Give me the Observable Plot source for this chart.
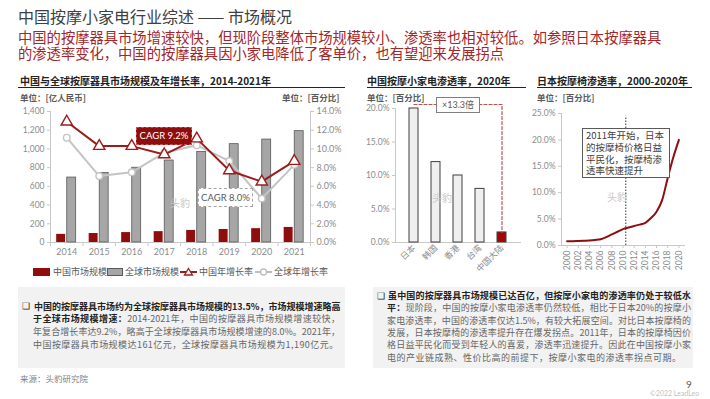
<!DOCTYPE html>
<html><head><meta charset="utf-8">
<script src="https://cdn.jsdelivr.net/npm/d3@7"></script>
<script src="https://cdn.jsdelivr.net/npm/@observablehq/plot@0.6"></script>
<style>
body{margin:0;width:710px;height:399px;position:relative;overflow:hidden;background:#fff;font-family:Lato,"Noto Sans CJK SC",sans-serif;}
.a{position:absolute;white-space:nowrap;}
.hd{font-size:10px;font-weight:bold;color:#222;line-height:14px;font-family:"Noto Sans CJK SC",sans-serif;}
.ul{position:absolute;height:0;border-top:1.5px solid #222;}
.unit{font-size:8.5px;font-weight:bold;color:#595959;line-height:11px;font-family:"Noto Sans CJK SC",sans-serif;}
.wm{font-size:10px;color:#c8c8c8;font-family:"Noto Sans CJK SC",sans-serif;}
.box{position:absolute;background:#f2f2f2;}
.tl{position:absolute;font-size:9px;line-height:12.8px;color:#666;white-space:nowrap;font-family:"Noto Sans CJK SC",sans-serif;text-align:justify;text-align-last:justify;}
.tl b{color:#222;}
.last{text-align-last:left;}
.lg{font-size:9px;color:#595959;line-height:12px;font-family:"Noto Sans CJK SC",sans-serif;}
.plotwrap{position:absolute;}
.plotwrap svg{overflow:visible;}
</style></head><body>

<div class="a" style="left:18px;top:7px;font-size:16px;line-height:18px;color:#404040;font-family:'Noto Sans CJK SC';">中国按摩小家电行业综述 —— 市场概况</div>
<div class="a" style="left:18px;top:28.5px;font-size:14.3px;line-height:15px;color:#a3262a;font-family:'Noto Sans CJK SC';">中国的按摩器具市场增速较快，但现阶段整体市场规模较小、渗透率也相对较低。如参照日本按摩器具</div>
<div class="a" style="left:18px;top:45px;font-size:14.3px;line-height:15px;color:#a3262a;font-family:'Noto Sans CJK SC';">的渗透率变化，中国的按摩器具因小家电降低了客单价，也有望迎来发展拐点</div>

<div class="a hd" style="left:20px;top:74px;">中国与全球按摩器具市场规模及年增长率，2014-2021年</div>
<div class="ul" style="left:18px;top:87px;width:327px;"></div>
<div class="a hd" style="left:367px;top:74px;">中国按摩小家电渗透率，2020年</div>
<div class="ul" style="left:367px;top:87px;width:159px;"></div>
<div class="a hd" style="left:537px;top:74px;">日本按摩椅渗透率，2000-2020年</div>
<div class="ul" style="left:537px;top:87px;width:155px;"></div>

<div class="a unit" style="left:20px;top:92px;">单位：[亿人民币]</div>
<div class="a unit" style="left:282px;top:92px;">单位：[百分比]</div>
<div class="a unit" style="left:367px;top:92px;">单位：[百分比]</div>
<div class="a unit" style="left:537px;top:92px;">单位：[百分比]</div>

<div id="c1a" class="plotwrap" style="left:18px;top:92px;"></div>
<div id="c1b" class="plotwrap" style="left:18px;top:92px;"></div>
<div id="c2" class="plotwrap" style="left:360px;top:92px;"></div>
<div id="c3" class="plotwrap" style="left:522px;top:92px;"></div>

<div class="a wm" style="left:170px;top:195px;">头豹</div>
<div class="a wm" style="left:432px;top:190px;">头豹</div>
<div class="a wm" style="left:607px;top:189px;">头豹</div>

<div class="a" style="left:136px;top:127px;width:54px;height:16px;background:#8e0d0d;border:1px dashed #d05050;color:#fff;font-size:9.5px;line-height:16px;text-align:center;">CAGR 9.2%</div>
<div class="a" style="left:198px;top:188px;width:53px;height:17px;background:#fff;border:1px dashed #a6a6a6;color:#595959;font-size:9.5px;line-height:17px;text-align:center;">CAGR 8.0%</div>
<div class="a" style="left:436px;top:97px;width:42px;height:14px;background:#fff;border:1px solid #7f7f7f;color:#595959;font-size:9px;line-height:14px;text-align:center;">×13.3倍</div>
<div class="a" style="left:582px;top:128px;width:86px;height:48px;background:#fff;border:1px solid #595959;"></div>
<div class="a" style="left:586px;top:129px;font-size:9.5px;line-height:11.8px;color:#404040;font-family:'Noto Sans CJK SC';padding-top:1px;">2011年开始，日本<br>的按摩椅价格日益<br>平民化，按摩椅渗<br>透率快速提升</div>

<svg class="a" style="left:0;top:264px;" width="345" height="16">
  <rect x="33" y="4" width="17" height="8" fill="#8e0d0d"/>
  <rect x="107.5" y="4.5" width="15" height="7" fill="#a6a6a6" stroke="#595959" stroke-width="1"/>
  <line x1="180" y1="8" x2="197" y2="8" stroke="#9c1c1c" stroke-width="2"/>
  <path d="M188.5,4.5 L192.5,11 L184.5,11 Z" fill="#fff" stroke="#9c1c1c" stroke-width="1.3"/>
  <line x1="255" y1="8" x2="272" y2="8" stroke="#bfbfbf" stroke-width="2"/>
  <circle cx="263.5" cy="8" r="3" fill="#fff" stroke="#bfbfbf" stroke-width="1.3"/>
</svg>
<div class="a lg" style="left:53px;top:266px;">中国市场规模</div>
<div class="a lg" style="left:125px;top:266px;">全球市场规模</div>
<div class="a lg" style="left:199px;top:266px;">中国年增长率</div>
<div class="a lg" style="left:274px;top:266px;">全球年增长率</div>

<div class="box" style="left:18px;top:287px;width:327px;height:81px;"></div>
<div class="a" style="left:22px;top:300px;font-size:9px;line-height:12.8px;color:#222;">❑</div>
<div class="tl" style="left:34px;top:300.6px;width:306px;"><b>中国的按摩器具市场约为全球按摩器具市场规模的13.5%，市场规模增速略高</b></div>
<div class="tl" style="left:33px;top:313.4px;width:307px;"><b>于全球市场规模增速：</b>2014-2021年，中国的按摩器具市场规模增速较快，</div>
<div class="tl" style="left:33px;top:326.2px;width:307px;">年复合增长率达9.2%，略高于全球按摩器具市场规模增速的8.0%。2021年，</div>
<div class="tl last" style="left:33px;top:339px;width:307px;letter-spacing:0.45px;">中国按摩器具市场规模达161亿元，全球按摩器具市场规模为1,190亿元。</div>

<div class="box" style="left:373px;top:287px;width:320px;height:81px;"></div>
<div class="a" style="left:377px;top:289.8px;font-size:9px;line-height:12.4px;color:#222;">❑</div>
<div class="tl" style="left:388px;top:289.8px;width:303px;line-height:12.4px;"><b>虽中国的按摩器具市场规模已达百亿，但按摩小家电的渗透率仍处于较低水</b></div>
<div class="tl" style="left:387px;top:302.2px;width:304px;line-height:12.4px;"><b>平：</b>现阶段，中国的按摩小家电渗透率仍然较低，相比于日本20%的按摩小</div>
<div class="tl" style="left:387px;top:314.6px;width:304px;line-height:12.4px;">家电渗透率，中国的渗透率仅达1.5%，有较大拓展空间。对比日本按摩椅的</div>
<div class="tl" style="left:387px;top:327px;width:304px;line-height:12.4px;">发展，日本按摩椅的渗透率提升存在爆发拐点。2011年，日本的按摩椅因价</div>
<div class="tl" style="left:387px;top:339.4px;width:304px;line-height:12.4px;">格日益平民化而受到年轻人的喜爱，渗透率迅速提升。因此在中国按摩小家</div>
<div class="tl last" style="left:387px;top:351.8px;width:304px;line-height:12.4px;letter-spacing:0.5px;">电的产业链成熟、性价比高的前提下，按摩小家电的渗透率拐点可期。</div>

<div class="a" style="left:20px;top:372px;font-size:8.5px;line-height:12px;color:#7f7f7f;font-family:'Noto Sans CJK SC';">来源：头豹研究院</div>
<div class="a" style="left:686px;top:377px;font-size:10px;line-height:14px;color:#595959;">9</div>
<div class="a" style="left:650px;top:388px;font-size:7px;line-height:10px;color:#bfbfbf;">©2022 LeadLeo</div>

<script>
// ---- Data ----
const years = [2014, 2015, 2016, 2017, 2018, 2019, 2020, 2021];
const chinaMarket = [87, 96, 106, 116, 129, 139, 148, 161];          // 亿人民币
const globalMarket = [694, 743, 799, 876, 967, 1051, 1100, 1190];    // 亿人民币
const chinaGrowth = [12.9, 10.3, 10.3, 9.4, 11.1, 7.7, 6.5, 8.7];    // %
const globalGrowth = [11.2, 7.1, 7.5, 9.6, 10.4, 8.7, 4.7, 8.3];     // %
const marketTicks = [0, 200, 400, 600, 800, 1000, 1200, 1400];
const growthTicks = [0, 2, 4, 6, 8, 10, 12, 14];

const regions = ["日本", "韩国", "香港", "台湾", "中国大陆"];
const penetration2020 = [20, 12, 10, 8, 1.5];
const penetrationTicks = [0, 5, 10, 15, 20];
const multipleLevel = 20.6; // level of the ×13.3倍 dashed guide

const jpYears = [2000,2001,2002,2003,2004,2005,2006,2007,2008,2009,2010,2011,2012,2013,2014,2015,2016,2017,2018,2019,2020];
const jpChair = [0.8,0.8,0.85,0.9,0.95,1.05,1.2,1.6,2.1,2.6,3.1,3.4,3.7,3.95,4.3,5.2,6.4,8.6,12.8,16.7,20.0];
const jpYearTicks = [2000,2002,2004,2006,2008,2010,2012,2014,2016,2018,2020];
const jpTicks = [0, 5, 10, 15, 20, 25];
const markerYear = 2010.5;

const RED = "#8e0d0d", LRED = "#9c1c1c", GRAY = "#a6a6a6";
const FONT = "Lato, 'Noto Sans CJK SC', sans-serif";
const pct1 = d => d.toFixed(1) + "%";
const axisStyle = {background: "transparent", color: "#c8c8c8", fontSize: "8.5px", fontFamily: FONT, overflow: "visible"};

// ---- Chart 1 ----
const rows = years.map((y, i) => ({year: y, china: chinaMarket[i], global: globalMarket[i], cr: chinaGrowth[i], gr: globalGrowth[i]}));
const bounds = d3.range(years[0] - 0.5, years[years.length - 1] + 1, 1);
const common1 = {width: 327, height: 172, marginTop: 19, marginBottom: 22, marginLeft: 32, marginRight: 35};

const c1a = Plot.plot({
  ...common1,
  style: axisStyle,
  x: {domain: [years[0] - 0.5, years[years.length - 1] + 0.5], ticks: bounds, tickFormat: () => "", tickSize: 4, line: true, label: null},
  y: {domain: [0, 1400], ticks: marketTicks, tickFormat: d3.format(","), tickSize: 3, tickPadding: 3, line: true, label: null},
  marks: [
    Plot.rect(rows, {x1: d => d.year - 0.31, x2: d => d.year - 0.035, y1: () => 0, y2: "china", fill: RED}),
    Plot.rect(rows, {x1: d => d.year + 0.015, x2: d => d.year + 0.29, y1: () => 0, y2: "global", fill: GRAY, stroke: "#595959", strokeWidth: 0.8})
  ]
});
document.getElementById("c1a").appendChild(c1a);

const c1b = Plot.plot({
  ...common1,
  style: {...axisStyle, fontSize: "9px"},
  x: {domain: [years[0] - 0.5, years[years.length - 1] + 0.5], ticks: years, tickFormat: d => String(d), tickSize: 0, tickPadding: 6, label: null},
  y: {domain: [0, 14], axis: "right", ticks: growthTicks, tickFormat: pct1, tickSize: 3, tickPadding: 3, line: true, label: null},
  marks: [
    Plot.line(rows, {x: "year", y: "gr", stroke: "#c4c4c4", strokeWidth: 2}),
    Plot.dot(rows, {x: "year", y: "gr", r: 3.3, fill: "white", stroke: "#c4c4c4", strokeWidth: 1.4}),
    Plot.line(rows, {x: "year", y: "cr", stroke: LRED, strokeWidth: 2}),
    Plot.dot(rows, {x: "year", y: "cr", symbol: "triangle", r: 4.2, fill: "white", stroke: LRED, strokeWidth: 1.4})
  ]
});
document.getElementById("c1b").appendChild(c1b);

// ---- Chart 2 ----
const regionRows = regions.map((r, i) => ({region: r, v: penetration2020[i]}));
const guide = [
  {region: regions[0], v: multipleLevel},
  {region: regions[regions.length - 1], v: multipleLevel},
  {region: regions[regions.length - 1], v: penetration2020[penetration2020.length - 1]}
];
const c2 = Plot.plot({
  width: 170, height: 185, marginTop: 16, marginBottom: 35, marginLeft: 35, marginRight: 10,
  style: axisStyle,
  x: {domain: regions, padding: 0.6, tickRotate: -45, tickSize: 0, tickPadding: 4, label: null, line: true},
  y: {domain: [0, 20], ticks: penetrationTicks, tickFormat: pct1, tickSize: 3, tickPadding: 3, line: true, label: null},
  marks: [
    Plot.barY(regionRows, {x: "region", y: "v", fill: d => d.region === regions[regions.length - 1] ? "#a00808" : "#efefef", stroke: "#3f3f3f", strokeWidth: 1}),
    Plot.line(guide, {x: "region", y: "v", stroke: "#c0504d", strokeWidth: 1.2, strokeDasharray: "3,2"})
  ]
});
document.getElementById("c2").appendChild(c2);

// ---- Chart 3 ----
const jpRows = jpYears.map((y, i) => ({year: y, v: jpChair[i]}));
const c3 = Plot.plot({
  width: 183, height: 183, marginTop: 21, marginBottom: 30, marginLeft: 39, marginRight: 21,
  style: axisStyle,
  x: {domain: [jpYears[0] - 1, jpYears[jpYears.length - 1] + 1], ticks: jpYearTicks, tickFormat: d => String(d), tickRotate: -90, tickSize: 3, tickPadding: 2, line: true, label: null},
  y: {domain: [0, 25], ticks: jpTicks, tickFormat: pct1, tickSize: 3, tickPadding: 3, line: true, label: null},
  marks: [
    Plot.ruleX([markerYear], {y1: () => 0, y2: () => 24.5, stroke: "#333", strokeWidth: 1, strokeDasharray: "1.5,1.5"}),
    Plot.line(jpRows, {x: "year", y: "v", stroke: "#8e0d0d", strokeWidth: 2, curve: "monotone-x"})
  ]
});
document.getElementById("c3").appendChild(c3);

// tick label colours
document.querySelectorAll(".plotwrap svg text").forEach(t => { t.setAttribute("fill", "#8c8c8c"); });
</script>
</body></html>
